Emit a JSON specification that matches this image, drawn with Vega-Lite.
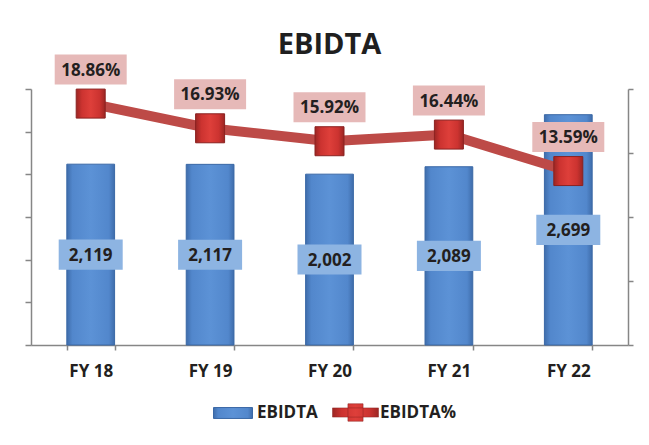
{
  "$schema": "https://vega.github.io/schema/vega-lite/v6.json",
  "width": 597,
  "height": 256,
  "autosize": {"type": "none"},
  "padding": {"left": 31, "top": 89, "right": 21, "bottom": 100},
  "background": "white",
  "title": {"text": "EBIDTA", "font": "Open Sans", "fontSize": 29, "fontWeight": "bold", "color": "#1F1F1F", "anchor": "middle", "baseline": "alphabetic", "offset": -28},
  "data": {"values": [
    {"year": "FY 18", "ebidta": 2119, "pct": 0.1886},
    {"year": "FY 19", "ebidta": 2117, "pct": 0.1693},
    {"year": "FY 20", "ebidta": 2002, "pct": 0.1592},
    {"year": "FY 21", "ebidta": 2089, "pct": 0.1644},
    {"year": "FY 22", "ebidta": 2699, "pct": 0.1359}
  ]},
  "encoding": {
    "x": {"field": "year", "type": "nominal", "sort": null,
      "scale": {"paddingInner": 0.6, "paddingOuter": 0.3},
      "axis": {"title": null, "labelFont": "Open Sans", "labelFontSize": 17, "labelFontWeight": "bold", "labelColor": "#231F20", "labelAngle": 0, "labelBaseline": "alphabetic", "labelPadding": 26, "domainColor": "#868686", "domainWidth": 1.5, "tickColor": "#868686", "tickWidth": 1.5, "tickSize": 5, "tickBand": "extent", "grid": false}}
  },
  "layer": [
    {
      "mark": {"type": "bar", "strokeWidth": 1,
        "fill": {"gradient": "linear", "x1": 0, "x2": 1, "y1": 0, "y2": 0, "stops": [
          {"offset": 0, "color": "#3F6DAB"}, {"offset": 0.12, "color": "#5287CC"}, {"offset": 0.5, "color": "#5C92D6"}, {"offset": 0.88, "color": "#5287CC"}, {"offset": 1, "color": "#3F6DAB"}]}},
      "encoding": {
        "y": {"field": "ebidta", "type": "quantitative", "scale": {"domain": [0, 3000]},
          "axis": {"orient": "left", "values": [0, 500, 1000, 1500, 2000, 2500, 3000], "labels": false, "title": null, "grid": false, "domainColor": "#868686", "domainWidth": 1.5, "tickColor": "#868686", "tickWidth": 1.5, "tickSize": 6}},
        "stroke": {"datum": "EBIDTA", "scale": {"range": ["#3A68A6"]},
          "legend": {"orient": "none", "legendX": 182, "legendY": 304, "direction": "horizontal", "title": null,
            "labelFont": "Open Sans", "labelFontSize": 17, "labelFontWeight": "bold", "labelColor": "#231F20",
            "symbolType": "M-1,-0.28H1V0.28H-1Z", "symbolSize": 1521, "symbolStrokeWidth": 1, "labelOffset": 4, "padding": 0}}
      }
    },
    {
      "encoding": {"y": {"field": "ebidta", "type": "quantitative", "scale": {"domain": [0, 6000]}, "axis": null}},
      "layer": [
        {"mark": {"type": "point", "shape": "M-1,-0.47H1V0.47H-1Z", "size": 4096, "filled": true, "fill": "#8DB4E2", "opacity": 1, "strokeWidth": 0}},
        {"mark": {"type": "text", "font": "Open Sans", "fontSize": 17, "fontWeight": "bold", "color": "#231F20", "baseline": "middle", "align": "center", "dy": 1},
          "encoding": {"text": {"field": "ebidta", "type": "quantitative", "format": ","}}}
      ]
    },
    {
      "encoding": {"y": {"field": "pct", "type": "quantitative", "scale": {"domain": [0, 0.2]},
        "axis": {"orient": "right", "values": [0, 0.05, 0.1, 0.15, 0.2], "labels": false, "title": null, "grid": false, "domainColor": "#868686", "domainWidth": 1.5, "tickColor": "#868686", "tickWidth": 1.5, "tickSize": 5}}},
      "layer": [
        {"mark": {"type": "line", "strokeWidth": 10, "strokeJoin": "round", "stroke": "#BD4A47"}},
        {"mark": {"type": "point", "shape": "square", "size": 841, "filled": true, "stroke": "#8B2220", "strokeWidth": 1,
          "fill": {"gradient": "linear", "x1": 0, "x2": 1, "y1": 0, "y2": 0, "stops": [
            {"offset": 0, "color": "#9C2623"}, {"offset": 0.2, "color": "#CC3330"}, {"offset": 0.5, "color": "#DE3F3A"}, {"offset": 0.8, "color": "#CC3330"}, {"offset": 1, "color": "#9C2623"}]}},
          "encoding": {"opacity": {"datum": "EBIDTA%", "type": "nominal", "scale": {"range": [1]},
            "legend": {"orient": "none", "legendX": 301, "legendY": 300, "direction": "horizontal", "title": null,
              "labelFont": "Open Sans", "labelFontSize": 17, "labelFontWeight": "bold", "labelColor": "#231F20",
              "symbolType": "M-1,-0.2H1V0.2H-1Z M-0.33,-0.38H0.33V0.38H-0.33Z", "symbolSize": 2116, "symbolStrokeWidth": 0.5, "labelOffset": 1, "padding": 0}}}},
        {"mark": {"type": "point", "shape": "M-1,-0.417H1V0.417H-1Z", "size": 5184, "filled": true, "fill": "#E6B9B8", "opacity": 1, "strokeWidth": 0, "yOffset": -34}},
        {"mark": {"type": "text", "font": "Open Sans", "fontSize": 17, "fontWeight": "bold", "color": "#231F20", "baseline": "middle", "align": "center", "yOffset": -34, "dy": 1},
          "encoding": {"text": {"field": "pct", "type": "quantitative", "format": ".2%"}}}
      ]
    }
  ],
  "resolve": {"scale": {"y": "independent"}},
  "config": {"view": {"stroke": null}}
}
